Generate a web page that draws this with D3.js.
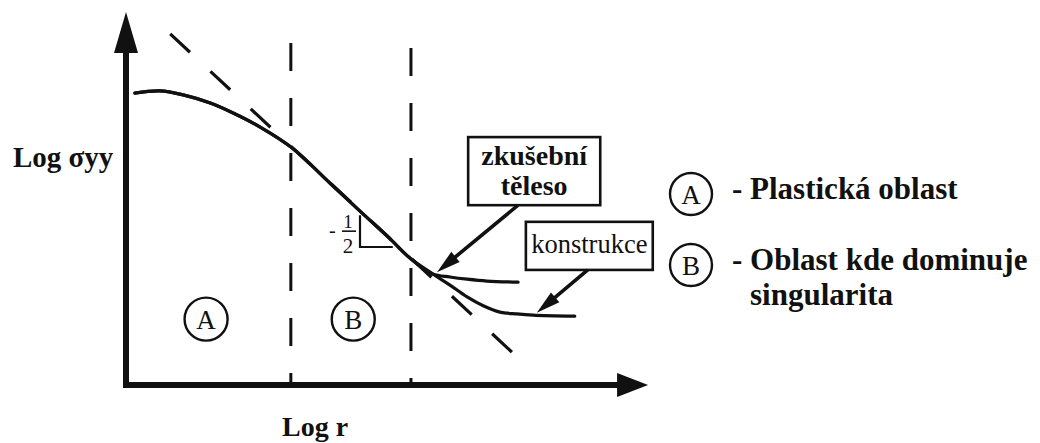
<!DOCTYPE html>
<html>
<head>
<meta charset="utf-8">
<script src="https://cdn.jsdelivr.net/npm/d3@7"></script>
<style>
  html, body { margin: 0; padding: 0; background: #fff; }
  svg { display: block; }
  text { font-family: "Liberation Serif", "Times New Roman", serif; fill: #111; }
</style>
</head>
<body>
<svg id="chart" width="1040" height="443"></svg>
<script>
// Stress distribution ahead of a crack tip: log σyy against log r (schematic units)
const axisEnds = { x: 10.04, y: 10.08 };

// common part of the stress curve (plastic zone, then the -1/2 singular slope)
const trunk = [[0.17,7.89],[0.65,7.95],[1.1,7.84],[1.62,7.62],[2.06,7.35],[2.58,6.97],
               [3.19,6.41],[3.92,5.46],[4.5,4.7],[5.08,3.95],[5.46,3.43],[5.9,3.0]];
// far-field tails: test specimen and structure
const specimenTail  = [[6.23,2.92],[6.56,2.86],[6.94,2.81],[7.54,2.78]];
const structureTail = [[6.23,2.70],[6.56,2.38],[6.87,2.14],[7.19,1.97],[7.52,1.92],[7.83,1.89],[8.63,1.86]];

// singular asymptote (slope -1/2 in log-log)
const asymptote = [[0.85,9.49],[7.48,0.81]];

// region boundaries (dashed verticals)
const regionBounds = [{ x: 3.17, top: 9.24 }, { x: 5.48, top: 9.11 }];

// slope triangle under the singular part
const slopeTriangle = [[4.5,4.59],[4.5,3.73],[5.13,3.73]];

// circled region markers
const regionMarks = [{ id: "A", x: 1.54, y: 1.78 }, { id: "B", x: 4.37, y: 1.78 }];

// callout boxes and the curve points they point to
const callouts = [
  { lines: ["zkušební", "těleso"], bold: true, box: [6.58, 9.12, 6.70, 4.86],
    from: [7.54, 4.86], to: [5.98, 3.05] },
  { lines: ["konstrukce"], bold: false, box: [7.69, 10.13, 4.41, 3.11],
    from: [8.88, 3.11], to: [7.90, 1.95] }
];

// legend entries
const legendIds = ["A", "B"];
const legendTexts = [["- Plastická oblast"], ["- Oblast kde dominuje", "singularita"]];

const axisTitles = { x: "Log r", y: "Log σyy" };

const svg = d3.select("#chart");
const x = d3.scaleLinear().domain([0, 10]).range([126, 646]);
const y = d3.scaleLinear().domain([0, 10]).range([385, 15]);

const line = d3.line().x(d => x(d[0])).y(d => y(d[1]));
const smooth = d3.line().x(d => x(d[0])).y(d => y(d[1])).curve(d3.curveCatmullRom.alpha(0.5));

// filled arrowhead at point b, pointing from a to b
function arrowHead(g, ax, ay, bx, by, len, half) {
  const dx = bx - ax, dy = by - ay, L = Math.hypot(dx, dy);
  const ux = dx / L, uy = dy / L, px = -uy, py = ux;
  const baseX = bx - ux * len, baseY = by - uy * len;
  g.append("path")
    .attr("d", `M${bx},${by}L${baseX + px * half},${baseY + py * half}L${baseX - px * half},${baseY - py * half}Z`)
    .attr("fill", "#111");
}

// region boundaries
svg.selectAll("line.bound").data(regionBounds).join("line")
  .attr("class", "bound")
  .attr("x1", d => x(d.x)).attr("x2", d => x(d.x))
  .attr("y1", d => y(d.top)).attr("y2", y(0))
  .attr("stroke", "#111").attr("stroke-width", 3)
  .attr("stroke-dasharray", "28,27");

// asymptote
svg.append("path").attr("d", line(asymptote))
  .attr("fill", "none").attr("stroke", "#111").attr("stroke-width", 3.2)
  .attr("stroke-dasharray", "27,28");

// stress curves
[trunk.concat(specimenTail), trunk.concat(structureTail)].forEach(pts => {
  svg.append("path").attr("d", smooth(pts))
    .attr("fill", "none").attr("stroke", "#111").attr("stroke-width", 3.2)
    .attr("stroke-linejoin", "round").attr("stroke-linecap", "round");
});

// slope triangle and its label
svg.append("path").attr("d", line(slopeTriangle))
  .attr("fill", "none").attr("stroke", "#111").attr("stroke-width", 2.2);
{
  const tx = x(slopeTriangle[0][0]), ty = y(slopeTriangle[0][1]);
  svg.append("text").attr("x", tx - 31).attr("y", ty + 22).attr("font-size", 20).text("-");
  svg.append("text").attr("x", tx - 12).attr("y", ty + 13).attr("font-size", 19)
    .attr("text-anchor", "middle").text("1");
  svg.append("line").attr("x1", tx - 18).attr("x2", tx - 4)
    .attr("y1", ty + 16).attr("y2", ty + 16).attr("stroke", "#111").attr("stroke-width", 1.6);
  svg.append("text").attr("x", tx - 12).attr("y", ty + 38).attr("font-size", 21)
    .attr("text-anchor", "middle").text("2");
}

// circled region markers
const marks = svg.selectAll("g.mark").data(regionMarks).join("g")
  .attr("class", "mark")
  .attr("transform", d => `translate(${x(d.x)},${y(d.y)})`);
marks.append("circle").attr("r", 21.5).attr("fill", "#fff")
  .attr("stroke", "#111").attr("stroke-width", 2.4);
marks.append("text").attr("text-anchor", "middle").attr("y", 9.5)
  .attr("font-size", 27).text(d => d.id);

// callouts
callouts.forEach(c => {
  const g = svg.append("g");
  const [bx0, bx1, by0, by1] = c.box;
  g.append("rect").attr("x", x(bx0)).attr("y", y(by0))
    .attr("width", x(bx1) - x(bx0)).attr("height", y(by1) - y(by0))
    .attr("fill", "#fff").attr("stroke", "#111").attr("stroke-width", 2.6);
  const cx = (x(bx0) + x(bx1)) / 2;
  const n = c.lines.length;
  c.lines.forEach((t, i) => {
    g.append("text").attr("x", cx)
      .attr("y", n === 2 ? y(by0) + 28 + i * 30 : (y(by0) + y(by1)) / 2 + 7)
      .attr("text-anchor", "middle")
      .attr("font-size", c.bold ? 28 : 26.5)
      .attr("font-weight", c.bold ? "bold" : "normal")
      .text(t);
  });
  const ax = x(c.from[0]), ay = y(c.from[1]), bx = x(c.to[0]), by = y(c.to[1]);
  const L = Math.hypot(bx - ax, by - ay);
  g.append("line").attr("x1", ax).attr("y1", ay)
    .attr("x2", bx - (bx - ax) / L * 15).attr("y2", by - (by - ay) / L * 15)
    .attr("stroke", "#111").attr("stroke-width", 3.6);
  arrowHead(g, ax, ay, bx, by, 24, 6.5);
});

// axes with arrowheads
svg.append("line").attr("x1", x(0)).attr("x2", x(0))
  .attr("y1", y(0) + 3).attr("y2", y(axisEnds.y) + 30)
  .attr("stroke", "#111").attr("stroke-width", 6);
arrowHead(svg, x(0), y(0), x(0), y(axisEnds.y), 41, 12);
svg.append("line").attr("x1", x(0) - 3).attr("x2", x(axisEnds.x) - 25)
  .attr("y1", y(0)).attr("y2", y(0))
  .attr("stroke", "#111").attr("stroke-width", 6);
arrowHead(svg, x(0), y(0), x(axisEnds.x), y(0), 31, 12);

// axis titles
svg.append("text").attr("x", 13).attr("y", 167)
  .attr("font-size", 29).attr("font-weight", "bold").text(axisTitles.y);
svg.append("text").attr("x", 282).attr("y", 436)
  .attr("font-size", 28).attr("font-weight", "bold").text(axisTitles.x);

// legend
const legend = svg.append("g").attr("transform", "translate(691,194)");
legendIds.forEach((id, i) => {
  const row = legend.append("g").attr("transform", `translate(0,${i * 71})`);
  row.append("circle").attr("r", 21).attr("fill", "#fff")
    .attr("stroke", "#111").attr("stroke-width", 2.4);
  row.append("text").attr("text-anchor", "middle").attr("y", 9.5)
    .attr("font-size", 27).text(id);
  legendTexts[i].forEach((t, j) => {
    row.append("text").attr("x", j === 0 ? 41 : 59).attr("y", 5 + j * 35)
      .attr("font-size", 31).attr("font-weight", "bold").text(t);
  });
});
</script>
</body>
</html>
